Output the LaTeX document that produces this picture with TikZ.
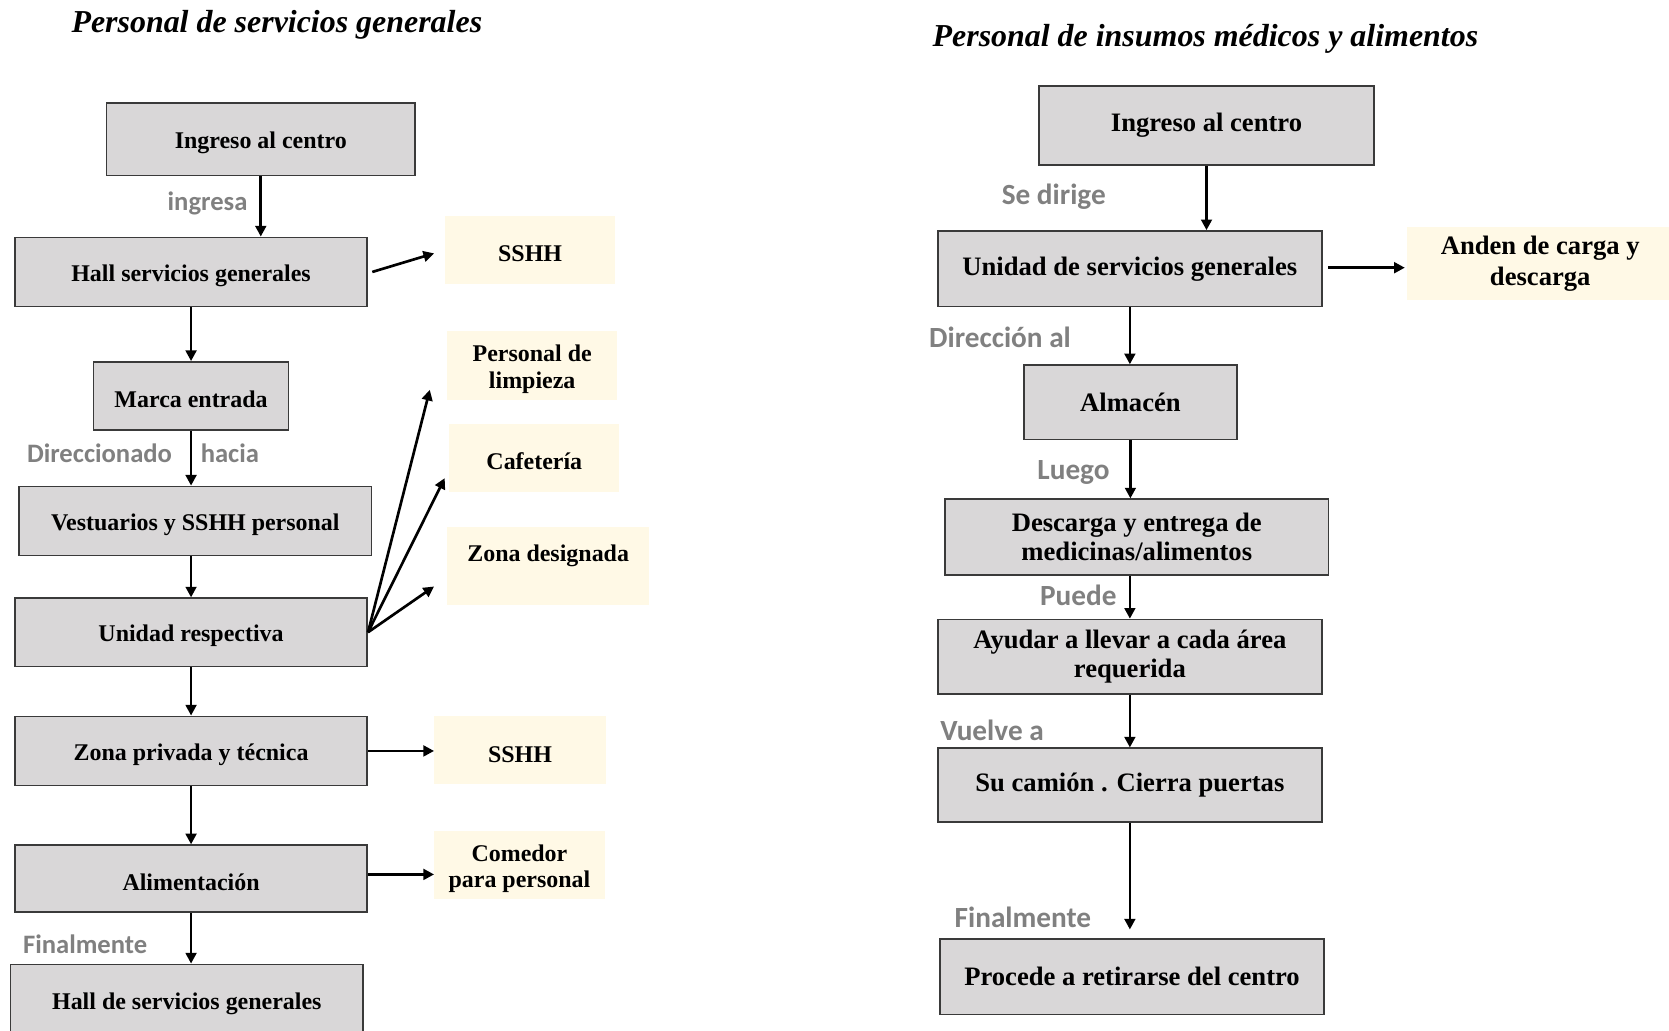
\documentclass[tikz,border=0pt]{standalone}
\usepackage{fontspec}
\setmainfont{Liberation Serif}
\newfontfamily\lblfont{Carlito}
\usetikzlibrary{arrows.meta,calc}
\definecolor{boxgray}{HTML}{D9D7D8}
\definecolor{boxedge}{HTML}{3A3A3A}
\definecolor{cream}{HTML}{FFF9E6}
\definecolor{lblgray}{HTML}{808080}
% invisible strut that lowers the text a little inside a box
\newcommand{\lowstrut}{\rule{0pt}{22pt}}

\begin{document}
\begin{tikzpicture}[x=1pt,y=-1pt,
  gbase/.style={draw=boxedge, line width=1.5pt, fill=boxgray, inner sep=0pt, align=center},
  gbox/.style={gbase, font=\fontsize{22.5}{26}\selectfont\bfseries,
    execute at begin node={\lowstrut}},
  gboxR/.style={gbase, font=\fontsize{25}{27.5}\selectfont\bfseries},
  cbase/.style={fill=cream, inner sep=0pt, align=center},
  cboxtwo/.style={cbase, font=\fontsize{22.5}{25}\selectfont\bfseries},
  cbox/.style={cboxtwo, execute at begin node={\lowstrut}},
  cboxR/.style={cbase, font=\fontsize{25}{29}\selectfont\bfseries},
  lbl/.style={text=lblgray, inner sep=0pt, font=\lblfont\fontsize{25}{30}\selectfont\bfseries},
  lblR/.style={lbl, font=\lblfont\fontsize{27.5}{32}\selectfont\bfseries},
  arr/.style={line width=2.5pt, -{Triangle[length=10pt,width=10pt]}},
  ttl/.style={inner sep=0pt, anchor=base west, font=\fontsize{30}{34}\selectfont\bfseries\itshape}
]
\useasboundingbox (0,0) rectangle (1568,968);
\clip (0,0) rectangle (1568,968);

% ---------- left flow: general services staff ----------
\node[ttl] (titleL) at (67,31) {Personal de servicios generales};

\node[gbox, minimum width=290pt, minimum height=68pt] (ing)   at (245,131)   {Ingreso al centro};
\node[gbox, minimum width=331pt, minimum height=65pt] (hall)  at (179.5,255.5) {Hall servicios generales};
\node[gbox, minimum width=183pt, minimum height=64pt] (marca) at (179.5,372) {Marca entrada};
\node[gbox, minimum width=331pt, minimum height=65pt] (vest)  at (183.5,489.5) {Vestuarios y SSHH personal};
\node[gbox, minimum width=331pt, minimum height=64pt] (unid)  at (179.5,594) {Unidad respectiva};
\node[gbox, minimum width=331pt, minimum height=65pt] (zpt)   at (179.5,705.5) {Zona privada y técnica};
\node[gbox, minimum width=331pt, minimum height=63pt] (alim)  at (179.5,825.5) {Alimentación};
\node[gbox, minimum width=331pt, minimum height=68pt] (hall2) at (175.5,940) {Hall de servicios generales};

\node[cbox, minimum width=160pt, minimum height=64pt] (sshh1) at (498,235) {SSHH};
\node[cboxtwo, minimum width=160pt, minimum height=65pt] (limp) at (500,343.5) {\lowstrut Personal de\\limpieza};
\node[cbox, minimum width=160pt, minimum height=64pt] (caf)   at (502,430) {Cafetería};
\node[cboxtwo, minimum width=190pt, minimum height=73pt,
      text height=16pt, text depth=24pt] (zona) at (515,531.5) {Zona designada};
\node[cbox, minimum width=161pt, minimum height=64pt] (sshh2) at (488.5,705) {SSHH};
\node[cboxtwo, minimum width=160pt, minimum height=64pt] (com) at (488,813) {\lowstrut Comedor\\para personal};

\node[lbl] (lIngresa) at (195,191) {ingresa};
\node[lbl] (lDirec)   at (93.5,426) {Direccionado};
\node[lbl] (lHacia)   at (216,426) {hacia};
\node[lbl] (lFinL)    at (80,887) {Finalmente};

\draw[arr] (ing.south) -- (ing.south |- hall.north);
\draw[arr] ($(hall.east)+(4,0)$) -- ($(sshh1.west)+(-10,3)$);
\draw[arr] (hall.south) -- (marca.north);
\draw[arr] (marca.south) -- (marca.south |- vest.north);
\draw[arr] (unid.north |- vest.south) -- (unid.north);
\draw[arr] (unid.east) -- ($(limp.south west)+(-16,-10)$);
\draw[arr] (unid.east) -- ($(caf.south west)+(-4,-13)$);
\draw[arr] (unid.east) -- ($(zona.west)+(-12,19.5)$);
\draw[arr] (unid.south) -- (zpt.north);
\draw[arr] (zpt.east) -- (zpt.east -| sshh2.west);
\draw[arr] (zpt.south) -- (alim.north);
\draw[arr] ($(alim.east)+(0,-4)$) -- ($(alim.east -| com.west)+(0,-4)$);
\draw[arr] (alim.south) -- (alim.south |- hall2.north);

% ---------- right flow: medical supplies and food staff ----------
\node[ttl] (titleR) at (876,44) {Personal de insumos médicos y alimentos};

\node[gboxR, minimum width=315pt, minimum height=74pt] (ing2) at (1133.5,118) {Ingreso al centro};
\node[gboxR, minimum width=361pt, minimum height=71pt] (usg)  at (1061.5,252.5) {Unidad de servicios generales};
\node[gboxR, minimum width=200pt, minimum height=70pt] (alm)  at (1062,378) {Almacén};
\node[gboxR, minimum width=360pt, minimum height=71pt] (desc) at (1068,504.5) {Descarga y entrega de\\medicinas/alimentos};
\node[gboxR, minimum width=361pt, minimum height=70pt] (ayu)  at (1061.5,617) {Ayudar a llevar a cada área\\requerida};
\node[gboxR, minimum width=361pt, minimum height=69pt] (cam)  at (1061.5,737.5) {Su camión . Cierra puertas};
\node[gboxR, minimum width=361pt, minimum height=71pt] (proc) at (1063.5,917.5) {Procede a retirarse del centro};

\node[cboxR, minimum width=250pt, minimum height=69pt] (anden) at (1447,247.5) {Anden de carga y\\descarga};

\node[lblR] (lSeDir) at (990,185) {Se dirige};
\node[lblR] (lDirAl) at (939.5,317) {Dirección al};
\node[lblR] (lLuego) at (1008.5,444) {Luego};
\node[lblR] (lPuede) at (1013,559) {Puede};
\node[lblR] (lVuel)  at (932,686) {Vuelve a};
\node[lblR] (lFinR)  at (961,862) {Finalmente};

\draw[arr] (ing2.south) -- (ing2.south |- usg.north);
\draw[arr] ($(usg.east)+(5,-1)$) -- ($(usg.east -| anden.west)+(-2,-1)$);
\draw[arr] (usg.south) -- (usg.south |- alm.north);
\draw[arr] (alm.south) -- (alm.south |- desc.north);
\draw[arr] (ayu.north |- desc.south) -- (ayu.north);
\draw[arr] (ayu.south) -- (cam.north);
\draw[arr, shorten >=8pt] (cam.south) -- (cam.south |- proc.north);
\end{tikzpicture}
\end{document}
